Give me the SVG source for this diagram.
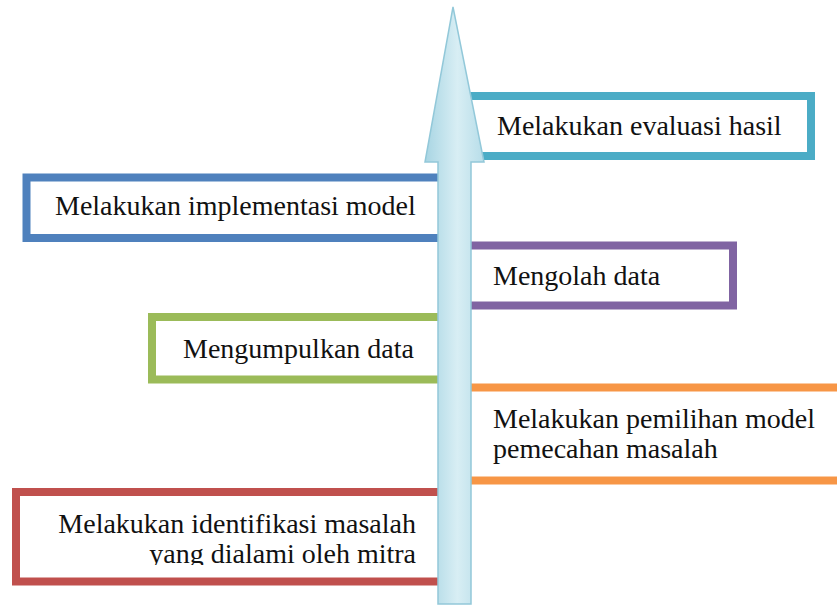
<svg xmlns="http://www.w3.org/2000/svg" width="837" height="606" viewBox="0 0 837 606">
<style>
.box{fill:#ffffff;stroke-width:8}
.t{font-family:"Liberation Serif","Times New Roman","DejaVu Serif",serif;font-size:28px;fill:#111111}
</style>
<defs>
<linearGradient id="ag" x1="0" y1="0" x2="1" y2="0">
<stop offset="0" stop-color="#a8d5e3"/>
<stop offset="0.55" stop-color="#d8eef4"/>
<stop offset="1" stop-color="#b7dde9"/>
</linearGradient>
<clipPath id="clipRed"><rect x="0" y="480" width="440" height="85"/></clipPath>
</defs>
<rect width="837" height="606" fill="#ffffff"/>
<g id="node-evaluasi">
<rect class="box" x="460" y="96" width="351" height="60" stroke="#4bacc6"/>
<text class="t" x="497" y="135">Melakukan evaluasi hasil</text>
</g>
<g id="node-implementasi">
<rect class="box" x="26.5" y="177.5" width="430" height="60.5" stroke="#4f81bd"/>
<text class="t" x="55" y="215">Melakukan implementasi model</text>
</g>
<g id="node-mengolah">
<rect class="box" x="450" y="245.5" width="283" height="60" stroke="#8064a2"/>
<text class="t" x="493" y="285">Mengolah data</text>
</g>
<g id="node-mengumpulkan">
<rect class="box" x="152" y="317" width="300" height="62.5" stroke="#9bbb59"/>
<text class="t" x="183" y="358">Mengumpulkan data</text>
</g>
<g id="node-pemilihan">
<rect class="box" x="450" y="387.5" width="420" height="93" stroke="#f79646"/>
<text class="t" x="493" y="428">Melakukan pemilihan model</text>
<text class="t" x="493" y="458">pemecahan masalah</text>
</g>
<g id="node-identifikasi">
<rect class="box" x="16" y="492" width="436" height="89.5" stroke="#c0504d"/>
<text class="t" x="416" y="533" text-anchor="end">Melakukan identifikasi masalah</text>
<text class="t" x="416" y="563" text-anchor="end" clip-path="url(#clipRed)">yang dialami oleh mitra</text>
</g>
<g id="connectors">
<path d="M427,165 L440,165 L440,172 L469,172 L469,165 L485,165 Z" fill="#9aa9ae" opacity="0.5"/>
<path d="M453,7 L484,162 L471,162 L471,604 L438,604 L438,162 L425,162 Z" fill="url(#ag)" stroke="#92c8d9" stroke-width="1.5" stroke-linejoin="miter"/>
</g>
</svg>
